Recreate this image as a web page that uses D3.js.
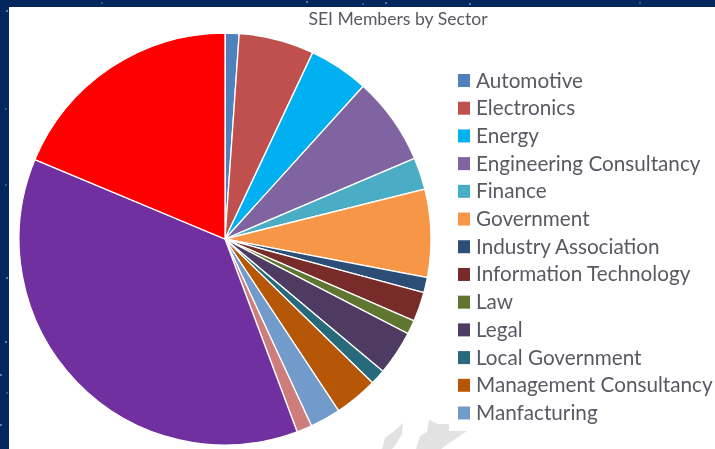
<!DOCTYPE html>
<html>
<head>
<meta charset="utf-8">
<script src="https://cdn.jsdelivr.net/npm/d3@7"></script>
<style>
  html, body { margin: 0; padding: 0; background: #04265f; }
  svg { display: block; filter: blur(0.45px); }
  text { font-family: Lato, "Open Sans", sans-serif; fill: #595963; }
</style>
</head>
<body>
<div id="chart"></div>
<script>
// Legend in the picture is cut off after Manfacturing, the last three slices have no readable name
const categories = ["Automotive", "Electronics", "Energy", "Engineering Consultancy", "Finance",
    "Government", "Industry Association", "Information Technology", "Law", "Legal",
    "Local Government", "Management Consultancy", "Manfacturing", "(cut off 1)", "(cut off 2)", "(cut off 3)"];
const shownInLegend = 13;

// Share of members in percent
const members = [1.1, 5.9, 4.7, 6.9, 2.5, 6.9, 1.2, 2.3, 1.1, 3.5, 1.2, 3.4, 2.4, 1.2, 37.0, 18.7];

const colors = ["#4f81bd", "#c0504d", "#00b0f0", "#8064a2", "#4bacc6", "#f79646", "#2c4d75", "#772c2a",
    "#5f7530", "#4d3b62", "#276a7c", "#b65708", "#729aca", "#cd7e7c", "#7030a0", "#ff0000"];

const width = 715;
const height = 449;

const svg = d3.select("#chart")
    .append("svg")
    .attr("width", width)
    .attr("height", height);

// Slide background behind the chart
svg.append("rect")
    .attr("width", width)
    .attr("height", height)
    .attr("fill", "#04265f");

const stars = [[7, 11, 1], [102, 3, 0.8], [307, 2, 1], [363, 4, 0.8], [386, 3, 1], [470, 4, 1], [640, 3, 0.8],
    [6, 109, 0.8], [7, 278, 1], [6, 342, 1.1], [1, 375, 1], [7, 393, 0.8], [1, 425, 1], [6, 185, 0.8]];
svg.append("g")
    .selectAll("circle")
    .data(stars)
    .join("circle")
    .attr("cx", d => d[0])
    .attr("cy", d => d[1])
    .attr("r", d => d[2])
    .attr("fill", "#6f9ad6");

// White chart panel
svg.append("rect")
    .attr("x", 9)
    .attr("y", 7)
    .attr("width", width - 9)
    .attr("height", height - 7)
    .attr("fill", "#ffffff");

// Grey map showing through at the bottom
const mapLine = d3.line();
const mapShapes = [
    [[382, 449], [385, 438], [394, 431], [403, 423], [402, 434], [396, 444], [392, 449]],
    [[416, 449], [420, 436], [427, 432], [429, 420], [438, 424], [449, 424], [449, 431], [467, 431], [452, 441], [441, 449]]
];
svg.append("g")
    .selectAll("path")
    .data(mapShapes)
    .join("path")
    .attr("d", d => mapLine(d) + "Z")
    .attr("fill", "#e2e2e2");

const pie = d3.pie().sort(null).value(d => d);
const arc = d3.arc().innerRadius(0).outerRadius(206);

const pieGroup = svg.append("g")
    .attr("transform", "translate(225,239)");

pieGroup.selectAll("path")
    .data(pie(members))
    .join("path")
    .attr("d", arc)
    .attr("fill", (d, i) => colors[i])
    .attr("stroke", "#ffffff")
    .attr("stroke-width", 1.3);

svg.append("text")
    .attr("x", 398)
    .attr("y", 25)
    .attr("text-anchor", "middle")
    .attr("font-size", 17.6)
    .text("SEI Members by Sector");

const legendY = d3.scalePoint()
    .domain(categories.slice(0, shownInLegend))
    .range([80.5, 413]);

const legend = svg.append("g")
    .selectAll("g")
    .data(categories.slice(0, shownInLegend))
    .join("g")
    .attr("transform", d => `translate(458,${legendY(d)})`);

legend.append("rect")
    .attr("y", -6.5)
    .attr("width", 12)
    .attr("height", 13)
    .attr("fill", (d, i) => colors[i]);

legend.append("text")
    .attr("x", 18)
    .attr("y", 7)
    .attr("font-size", 20.7)
    .text(d => d);
</script>
</body>
</html>
